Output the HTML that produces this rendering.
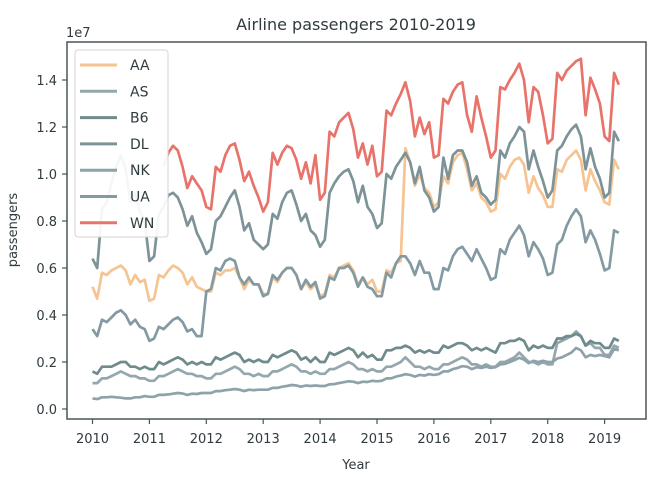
<!DOCTYPE html>
<html><head><meta charset="utf-8"><style>
body{margin:0;background:#fff;}
svg{display:block;font-family:"DejaVu Sans","Liberation Sans",sans-serif;}
</style></head><body>
<svg id="chart" width="662" height="486" viewBox="0 0 662 486">
<text x="356" y="30" text-anchor="middle" font-size="16" fill="#2f3b3f">Airline passengers 2010-2019</text>
<text x="66" y="37" font-size="13" fill="#2f3b3f">1e7</text>
<text x="0" y="0" transform="translate(17,230) rotate(-90)" text-anchor="middle" font-size="13" fill="#2f3b3f">passengers</text>
<text x="356" y="469" text-anchor="middle" font-size="13" fill="#2f3b3f">Year</text>
<g id="axes"></g>
<g id="series"></g>
<rect x="67" y="42" width="579" height="377" fill="none" stroke="#4a5559" stroke-width="1.5"/>
<g id="legend"></g>
</svg>
<script>
const xTickLabels=["2010","2011","2012","2013","2014","2015","2016","2017","2018","2019"];
const yTickValues=[0,2,4,6,8,10,12,14];
const yTickLabels=["0.0","0.2","0.4","0.6","0.8","1.0","1.2","1.4"];
const seriesNames=["AA","AS","B6","DL","NK","UA","WN"];
const seriesColors=["#f6c492","#95a7ae","#6f8b8b","#7d9398","#8ea2aa","#849aa2","#e8736b"];
const AA=[5.2,4.7,5.8,5.7,5.9,6.0,6.1,5.9,5.3,5.7,5.4,5.5,
4.6,4.7,5.7,5.6,5.9,6.1,6.0,5.8,5.3,5.6,5.2,5.1,
5.0,5.0,5.8,5.7,5.9,5.9,6.0,5.6,5.1,5.5,5.3,5.3,
4.9,4.9,5.6,5.4,5.8,6.0,6.0,5.7,5.1,5.4,5.1,5.3,
4.8,4.9,5.7,5.6,6.0,6.1,6.2,5.9,5.3,5.6,5.3,5.5,
5.0,5.0,5.9,5.8,6.2,6.3,11.1,10.5,9.5,10.0,9.4,9.2,
8.6,8.8,9.9,9.6,10.5,10.8,10.9,10.2,9.3,9.6,9.0,8.8,
8.4,8.5,10.0,9.8,10.3,10.6,10.7,10.4,9.2,9.9,9.4,9.1,
8.6,8.6,10.2,10.1,10.6,10.8,11.0,10.6,9.3,10.2,9.7,9.3,
8.8,8.7,10.6,10.2];
const AS=[1.1,1.1,1.3,1.3,1.4,1.5,1.6,1.5,1.4,1.4,1.3,1.3,
1.2,1.2,1.4,1.4,1.5,1.6,1.7,1.6,1.5,1.5,1.4,1.4,
1.3,1.3,1.5,1.5,1.6,1.7,1.8,1.7,1.5,1.5,1.4,1.5,
1.4,1.4,1.6,1.6,1.7,1.8,1.9,1.8,1.6,1.6,1.5,1.6,
1.5,1.5,1.7,1.7,1.8,1.9,2.0,1.9,1.7,1.7,1.6,1.7,
1.6,1.6,1.8,1.8,1.9,2.0,2.2,2.0,1.8,1.8,1.7,1.8,
1.7,1.7,1.9,1.9,2.0,2.1,2.2,2.1,1.9,1.9,1.8,1.9,
1.8,1.8,2.0,2.0,2.1,2.2,2.4,2.2,2.0,2.0,1.9,2.0,
1.9,1.9,2.8,2.9,3.0,3.1,3.3,3.1,2.7,2.8,2.6,2.6,
2.3,2.3,2.7,2.6];
const B6=[1.6,1.5,1.8,1.8,1.8,1.9,2.0,2.0,1.8,1.8,1.7,1.8,
1.7,1.7,2.0,1.9,2.0,2.1,2.2,2.1,1.9,2.0,1.9,2.0,
1.9,1.9,2.2,2.1,2.2,2.3,2.4,2.3,2.0,2.1,2.0,2.1,
2.0,2.0,2.3,2.2,2.3,2.4,2.5,2.4,2.1,2.2,2.0,2.2,
2.0,2.0,2.4,2.3,2.4,2.5,2.6,2.5,2.2,2.4,2.2,2.3,
2.1,2.1,2.5,2.5,2.6,2.6,2.7,2.6,2.4,2.5,2.4,2.5,
2.4,2.4,2.7,2.6,2.7,2.8,2.8,2.7,2.5,2.6,2.5,2.6,
2.5,2.4,2.8,2.8,2.9,2.9,3.0,2.9,2.5,2.7,2.6,2.7,
2.6,2.6,3.0,3.0,3.1,3.1,3.2,3.1,2.7,2.9,2.8,2.8,
2.6,2.6,3.0,2.9];
const DL=[6.4,6.0,8.5,8.8,9.6,10.3,10.8,10.2,8.8,9.2,8.4,8.0,
6.3,6.5,8.3,8.6,9.1,9.2,9.0,8.5,7.8,8.2,7.5,7.1,
6.6,6.8,8.0,8.2,8.6,9.0,9.3,8.6,7.6,7.9,7.2,7.0,
6.8,7.0,8.3,8.1,8.8,9.2,9.3,8.7,8.0,8.3,7.6,7.4,
6.9,7.2,9.2,9.6,9.9,10.1,10.2,9.7,8.8,9.5,8.6,8.3,
7.7,7.9,10.0,9.8,10.3,10.6,10.9,10.5,9.6,10.3,9.3,9.0,
8.4,8.6,10.7,9.8,10.8,11.0,11.0,10.5,9.5,9.9,9.2,9.0,
8.7,8.9,11.0,10.7,11.3,11.6,12.0,11.8,10.2,11.0,10.3,9.7,
9.0,9.3,11.0,11.2,11.6,11.9,12.1,11.6,10.2,11.1,10.3,9.8,
9.0,9.2,11.8,11.4];
const NK=[0.45,0.42,0.5,0.5,0.52,0.5,0.48,0.45,0.45,0.5,0.5,0.55,
0.52,0.52,0.6,0.6,0.62,0.65,0.68,0.66,0.6,0.65,0.64,0.68,
0.68,0.68,0.76,0.76,0.8,0.82,0.85,0.82,0.76,0.82,0.8,0.82,
0.82,0.82,0.9,0.9,0.95,0.98,1.02,1.0,0.95,1.0,0.98,1.0,
0.98,0.98,1.05,1.06,1.1,1.14,1.18,1.16,1.1,1.16,1.15,1.2,
1.18,1.2,1.3,1.3,1.38,1.42,1.48,1.45,1.38,1.45,1.42,1.48,
1.45,1.48,1.6,1.6,1.7,1.75,1.82,1.8,1.7,1.78,1.75,1.8,
1.75,1.78,1.9,1.92,2.0,2.08,2.18,2.1,1.95,2.05,2.0,2.05,
2.0,2.0,2.15,2.2,2.3,2.4,2.6,2.5,2.2,2.3,2.25,2.3,
2.25,2.2,2.55,2.5];
const UA=[3.4,3.1,3.8,3.7,3.9,4.1,4.2,4.0,3.6,3.8,3.5,3.4,
2.9,3.0,3.5,3.4,3.6,3.8,3.9,3.7,3.3,3.4,3.1,3.1,
5.0,5.1,6.0,5.9,6.3,6.4,6.3,5.6,5.3,5.6,5.3,5.3,
4.8,4.9,5.7,5.5,5.8,6.0,6.0,5.7,5.1,5.5,5.2,5.4,
4.7,4.8,5.6,5.5,6.0,6.0,6.1,5.8,5.2,5.6,5.2,5.1,
4.8,4.8,5.8,5.6,6.2,6.5,6.5,6.2,5.7,6.3,5.8,5.8,
5.1,5.1,6.0,5.9,6.5,6.8,6.9,6.6,6.3,6.8,6.4,6.0,
5.5,5.6,6.8,6.6,7.2,7.5,7.8,7.4,6.5,7.1,6.8,6.4,
5.7,5.8,7.0,7.2,7.8,8.2,8.5,8.2,7.1,7.6,7.2,6.6,
5.9,6.0,7.6,7.5];
const WN=[null,null,null,null,null,null,null,null,null,null,null,null,
null,null,null,10.3,10.9,11.2,11.0,10.3,9.4,9.9,9.6,9.3,
8.6,8.5,10.3,10.1,10.8,11.2,11.3,10.6,9.7,10.1,9.5,9.0,
8.4,8.8,10.9,10.4,10.9,11.2,11.1,10.6,9.8,10.5,9.6,10.8,
8.9,9.2,11.8,11.6,12.2,12.4,12.6,11.9,10.7,11.3,10.4,11.2,
9.9,10.1,12.7,12.5,13.0,13.4,13.9,13.1,11.6,12.4,11.7,12.2,
10.7,10.8,13.2,13.0,13.5,13.8,13.9,12.5,11.8,13.3,12.4,11.6,
10.7,11.0,13.7,13.6,14.0,14.3,14.7,14.0,12.2,13.7,13.5,12.5,
11.3,11.5,14.3,14.0,14.4,14.6,14.8,14.9,12.5,14.1,13.6,13.0,
11.6,11.4,14.3,13.8];
const seriesData=[AA,AS,B6,DL,NK,UA,WN];

const NS="http://www.w3.org/2000/svg";
function xScale(monthIndex){return 92.5+monthIndex*(56.9/12);}
function yScale(v){return 409-v*23.5;}
function mk(tag,attrs,parent){const e=document.createElementNS(NS,tag);for(const k in attrs)e.setAttribute(k,attrs[k]);parent.appendChild(e);return e;}

const axes=document.getElementById('axes');
xTickLabels.forEach((lab,i)=>{
  const x=xScale(i*12);
  const t=mk('line',{x1:x,x2:x,y1:419,y2:424,stroke:'#4a5559','stroke-width':1.2},axes);
  
  
  const tx=mk('text',{x:x,y:443,'text-anchor':'middle','font-size':13,fill:'#2f3b3f'},axes);
  tx.textContent=lab;
  
  
});
yTickValues.forEach((v,i)=>{
  const y=yScale(v);
  const t=mk('line',{x1:62,x2:67,y1:y,y2:y,stroke:'#4a5559','stroke-width':1.2},axes);
  
  
  const tx=mk('text',{x:57,y:y+5,'text-anchor':'end','font-size':13,fill:'#2f3b3f'},axes);
  tx.textContent=yTickLabels[i];
  
  
});

const sg=document.getElementById('series');
seriesData.forEach((arr,si)=>{
  let d='',pen=false;
  arr.forEach((v,i)=>{
    if(v===null){pen=false;return;}
    d+=(pen?'L':'M')+xScale(i).toFixed(1)+','+yScale(v).toFixed(1)+' ';
    pen=true;
  });
  const p=mk('path',{d:d,fill:'none',stroke:seriesColors[si],'stroke-width':2.7,'stroke-linejoin':'round'},sg);
  
  
});

const lg=document.getElementById('legend');
const box=mk('rect',{x:75,y:50,width:93,height:187,rx:3,fill:'#ffffff','fill-opacity':0.92,stroke:'#d6d6d6'},lg);


seriesNames.forEach((n,i)=>{
  const y=65+i*26.3;
  const l=mk('line',{x1:80,x2:117,y1:y,y2:y,stroke:seriesColors[i],'stroke-width':3},lg);
  
  
  const t=mk('text',{x:130,y:y+5,'font-size':14,fill:'#2f3b3f'},lg);
  t.textContent=n;
  
  
});
</script>
</body></html>
